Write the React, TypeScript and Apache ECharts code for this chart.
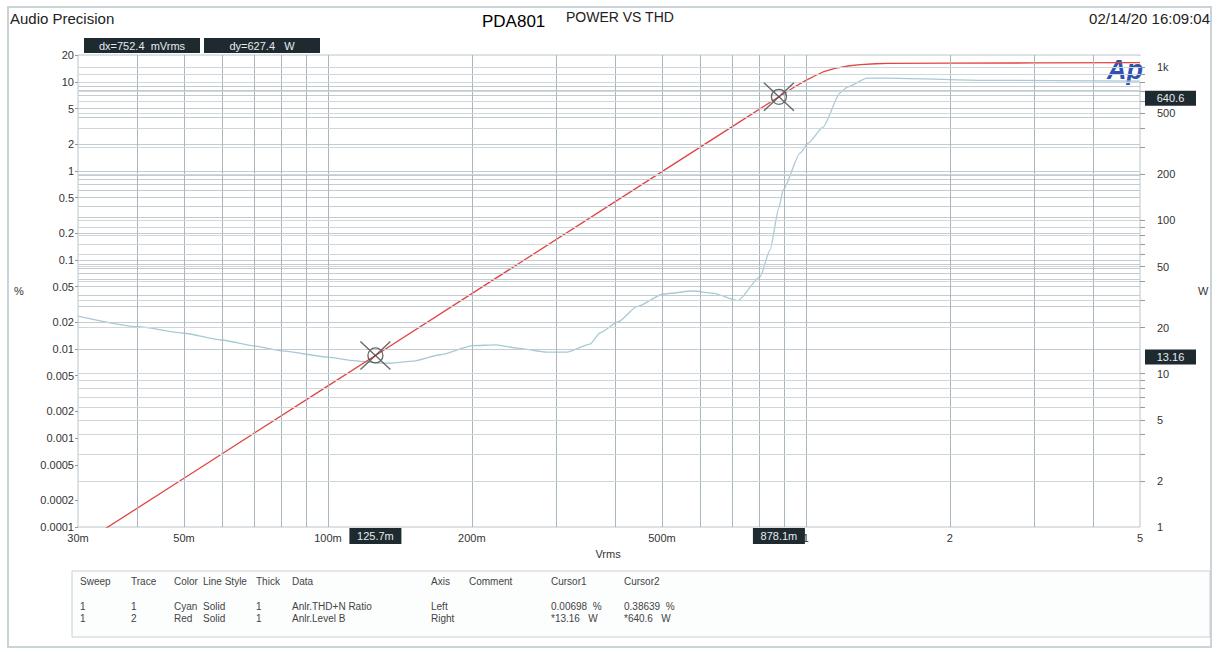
import React, { useEffect, useRef } from "react";
import * as echarts from "echarts";

// ---------- data ----------
const thdVrms = [0.03, 0.04, 0.05, 0.06, 0.07, 0.08, 0.1, 0.113, 0.1257, 0.135, 0.151, 0.172, 0.201, 0.225, 0.249, 0.287, 0.316, 0.3535, 0.371, 0.405, 0.443, 0.503, 0.581, 0.639, 0.721, 0.802, 0.841, 0.8781, 0.896, 0.972, 1.011, 1.086, 1.179, 1.22, 1.343, 1.479, 2.31, 5];
const thdPct = [0.0234, 0.0178, 0.015, 0.0126, 0.0108, 0.0095, 0.0081, 0.0074, 0.00698, 0.0069, 0.0073, 0.0086, 0.0109, 0.0111, 0.0102, 0.0092, 0.0092, 0.0113, 0.0152, 0.0202, 0.0298, 0.0414, 0.0447, 0.0424, 0.0348, 0.0647, 0.129, 0.38639, 0.61, 1.58, 2.05, 3.1, 7.5, 8.7, 11.0, 11.0, 10.4, 10.2];

const levelVrms = [0.03, 0.05, 0.1, 0.1257, 0.2, 0.5, 0.728, 0.8781, 0.95, 1.0, 1.05, 1.086, 1.15, 1.22, 1.3, 1.4, 1.479, 2, 3, 5];
const levelW = [0.75, 2.08, 8.33, 13.16, 33.3, 208, 441, 640.6, 748, 820, 885, 930, 980, 1017, 1038, 1052, 1059, 1062, 1065, 1069];

const cursorVrms = [0.1257, 0.8781];
const cursorW = [13.16, 640.6];
const cursorPct = [0.00698, 0.38639];
const cursorDx = "752.4";
const cursorDy = "627.4";

const xTickLabels = [0.03, 0.05, 0.1, 0.2, 0.5, 1, 2, 5];
const leftTickLabels = [0.0001, 0.0002, 0.0005, 0.001, 0.002, 0.005, 0.01, 0.02, 0.05, 0.1, 0.2, 0.5, 1, 2, 5, 10, 20];
const rightTickLabels = [1, 2, 5, 10, 20, 50, 100, 200, 500, 1000];

const xGridValues = [0.04, 0.05, 0.06, 0.07, 0.08, 0.09, 0.1, 0.2, 0.3, 0.4, 0.5, 0.6, 0.7, 0.8, 0.9, 1, 2, 3, 4];
const leftGridValues = [0.0002, 0.0003, 0.0004, 0.0005, 0.0006, 0.0007, 0.0008, 0.0009, 0.001, 0.002, 0.003, 0.004, 0.005, 0.006, 0.007, 0.008, 0.009, 0.01, 0.02, 0.03, 0.04, 0.05, 0.06, 0.07, 0.08, 0.09, 0.1, 0.2, 0.3, 0.4, 0.5, 0.6, 0.7, 0.8, 0.9, 1, 2, 3, 4, 5, 6, 7, 8, 9, 10];
const rightGridValues = [2, 3, 4, 5, 6, 7, 8, 9, 10, 20, 30, 40, 50, 60, 70, 80, 90, 100, 200, 300, 400, 500, 600, 700, 800, 900, 1000];

const tableHeader = ["Sweep", "Trace", "Color", "Line Style", "Thick", "Data", "Axis", "Comment", "Cursor1", "Cursor2"];
const tableRow1 = ["1", "1", "Cyan", "Solid", "1", "Anlr.THD+N Ratio", "Left", "", `${cursorPct[0]}  %`, `${cursorPct[1]}  %`];
const tableRow2 = ["1", "2", "Red", "Solid", "1", "Anlr.Level B", "Right", "", `*${cursorW[0]}   W`, `*${cursorW[1]}   W`];

// ---------- styles ----------
const FONT = "'Liberation Sans', Arial, sans-serif";
const CYAN = "#a9c9d6";
const RED = "#e2443f";
const GRID_C = "#c3ccd1";
const TEXT_C = "#333";

const fmtX = (v: number) => (v < 1 ? `${Math.round(v * 1000)}m` : `${v}`);
const fmtCursorX = (v: number) => (v < 1 ? `${(v * 1000).toFixed(1)}m` : `${v}`);
const fmtLeft = (v: number) => `${v}`;
const fmtRight = (v: number) => (v >= 1000 ? `${v / 1000}k` : `${v}`);

const cursorSymbol =
  "path://M0 0L30 28M30 0L0 28M22.5 14A7.5 7.5 0 1 1 7.5 14A7.5 7.5 0 1 1 22.5 14Z";

export default function App() {
  const ref = useRef<HTMLDivElement>(null);

  useEffect(() => {
    if (!ref.current) return;
    const chart = echarts.init(ref.current, null, { renderer: "svg" });

    const option: any = {
      animation: false,
      backgroundColor: "#ffffff",
      grid: {
        left: 78,
        right: 80,
        top: 55,
        bottom: 125,
        show: true,
        borderColor: "#b9c4ca",
        borderWidth: 1,
        backgroundColor: "#ffffff",
      },
      xAxis: {
        type: "log",
        logBase: 10,
        min: 0.03,
        max: 5,
        axisLine: { show: false },
        axisTick: { show: false },
        splitLine: { show: false },
        axisLabel: {
          customValues: xTickLabels,
          formatter: fmtX,
          color: TEXT_C,
          fontSize: 11,
          fontFamily: FONT,
          margin: 5,
        },
      },
      yAxis: [
        {
          type: "log",
          logBase: 10,
          min: 0.0001,
          max: 20,
          position: "left",
          axisLine: { show: false },
          axisTick: { show: true, customValues: leftTickLabels, length: 3, lineStyle: { color: "#999" } },
          splitLine: { show: false },
          axisLabel: {
            customValues: leftTickLabels,
            formatter: fmtLeft,
            color: TEXT_C,
            fontSize: 11,
            fontFamily: FONT,
            margin: 4,
          },
        },
        {
          type: "log",
          logBase: 10,
          min: 1,
          max: 1200,
          position: "right",
          axisLine: { show: false },
          axisTick: { show: true, customValues: rightGridValues, length: 5, lineStyle: { color: "#999" } },
          splitLine: { show: false },
          axisLabel: {
            customValues: rightTickLabels,
            formatter: fmtRight,
            color: TEXT_C,
            fontSize: 11,
            fontFamily: FONT,
            margin: 17,
          },
        },
      ],
      series: [
        {
          type: "line",
          yAxisIndex: 0,
          data: [],
          z: 1,
          silent: true,
          markLine: {
            silent: true,
            symbol: "none",
            label: { show: false },
            lineStyle: { color: GRID_C, width: 1, type: "solid" },
            data: [
              ...leftGridValues.map((v) => ({ yAxis: v })),
              ...xGridValues.map((v) => ({ xAxis: v, lineStyle: { color: "#aab6bd" } })),
            ],
          },
        },
        {
          type: "line",
          yAxisIndex: 1,
          data: [],
          z: 1,
          silent: true,
          markLine: {
            silent: true,
            symbol: "none",
            label: { show: false },
            lineStyle: { color: "#d0d7db", width: 1, type: "solid" },
            data: rightGridValues.map((v) => ({ yAxis: v })),
          },
        },
        {
          name: "Anlr.THD+N Ratio",
          type: "line",
          yAxisIndex: 0,
          data: thdVrms.map((x, i) => [x, thdPct[i]]),
          showSymbol: false,
          symbol: "none",
          smooth: 0.2,
          smoothMonotone: "x",
          lineStyle: { color: CYAN, width: 1.3 },
          z: 3,
        },
        {
          name: "Anlr.Level B",
          type: "line",
          yAxisIndex: 1,
          data: levelVrms.map((x, i) => [x, levelW[i]]),
          showSymbol: false,
          symbol: "none",
          smooth: false,
          clip: true,
          lineStyle: { color: RED, width: 1.3 },
          z: 4,
        },
        {
          type: "scatter",
          yAxisIndex: 1,
          data: cursorVrms.map((x, i) => [x, cursorW[i]]),
          symbol: cursorSymbol,
          symbolSize: [30, 28],
          itemStyle: { color: "rgba(0,0,0,0)", borderColor: "#444", borderWidth: 1.3 },
          z: 5,
          silent: true,
        },
      ],
    };

    chart.setOption(option);

    const gx = (v: number) => chart.convertToPixel({ xAxisIndex: 0 }, v) as number;
    const gyR = (v: number) => chart.convertToPixel({ yAxisIndex: 1 }, v) as number;

    const darkBox = (x: number, y: number, w: number, h: number, text: string) => ({
      type: "group",
      z: 100,
      children: [
        { type: "rect", shape: { x, y, width: w, height: h }, style: { fill: "#1e2a2f" } },
        {
          type: "text",
          x: x + w / 2,
          y: y + h / 2,
          style: {
            text,
            fill: "#e6ebee",
            font: `11px ${FONT}`,
            align: "center",
            verticalAlign: "middle",
          },
        },
      ],
    });

    const colX = [80, 131, 174, 203, 256, 292, 431, 469, 551, 624];
    const tableTexts: any[] = [];
    [tableHeader, tableRow1, tableRow2].forEach((row, ri) => {
      const y = [581, 606, 618][ri];
      row.forEach((t, ci) => {
        if (!t) return;
        tableTexts.push({
          type: "text",
          x: colX[ci],
          y,
          style: { text: t, fill: "#444", font: `10px ${FONT}`, verticalAlign: "middle" },
        });
      });
    });

    const graphics: any[] = [
      {
        type: "rect",
        z: -10,
        shape: { x: 8, y: 7, width: 1203, height: 640 },
        style: { fill: "none", stroke: "#c9d3d8", lineWidth: 2 },
      },
      { type: "text", x: 10, y: 18, style: { text: "Audio Precision", fill: "#222", font: `15px ${FONT}`, verticalAlign: "middle" } },
      { type: "text", x: 482, y: 21, style: { text: "PDA801", fill: "#000", font: `17px ${FONT}`, verticalAlign: "middle" } },
      { type: "text", x: 566, y: 17, style: { text: "POWER VS THD", fill: "#222", font: `14px ${FONT}`, verticalAlign: "middle" } },
      { type: "text", x: 1210, y: 18, style: { text: "02/14/20 16:09:04", fill: "#222", font: `15px ${FONT}`, align: "right", verticalAlign: "middle" } },
      { type: "text", x: 14, y: 291, style: { text: "%", fill: TEXT_C, font: `11px ${FONT}`, verticalAlign: "middle" } },
      { type: "text", x: 1198, y: 291, style: { text: "W", fill: TEXT_C, font: `11px ${FONT}`, verticalAlign: "middle" } },
      { type: "text", x: 608, y: 554, style: { text: "Vrms", fill: TEXT_C, font: `11px ${FONT}`, align: "center", verticalAlign: "middle" } },
      {
        type: "group",
        z: 90,
        children: [
          { type: "rect", shape: { x: 1106, y: 56, width: 36, height: 26 }, style: { fill: "#ffffff" } },
          {
            type: "text",
            x: 1107,
            y: 70,
            style: { text: "Ap", fill: "#2f52b0", font: `italic bold 27px ${FONT}`, verticalAlign: "middle" },
          },
        ],
      },
      darkBox(84, 38, 116, 15, `dx=${cursorDx}  mVrms`),
      darkBox(204, 38, 116, 15, `dy=${cursorDy}   W`),
      {
        type: "rect",
        z: -5,
        shape: { x: 72, y: 571, width: 1138, height: 66 },
        style: { fill: "#fcfdfd", stroke: "#c8d0d4", lineWidth: 1 },
      },
      ...tableTexts,
    ];

    cursorVrms.forEach((v, i) => {
      const px = gx(v);
      graphics.push(darkBox(px - 26, 528, 52, 16, fmtCursorX(v)));
      const py = gyR(cursorW[i]);
      graphics.push(darkBox(1145, py - 6, 51, 15, `${cursorW[i]}`));
    });

    chart.setOption({ graphic: graphics });

    return () => chart.dispose();
  }, []);

  return (
    <div
      ref={ref}
      style={{ position: "absolute", left: 0, top: 0, width: 1220, height: 652, background: "#fff" }}
    />
  );
}
